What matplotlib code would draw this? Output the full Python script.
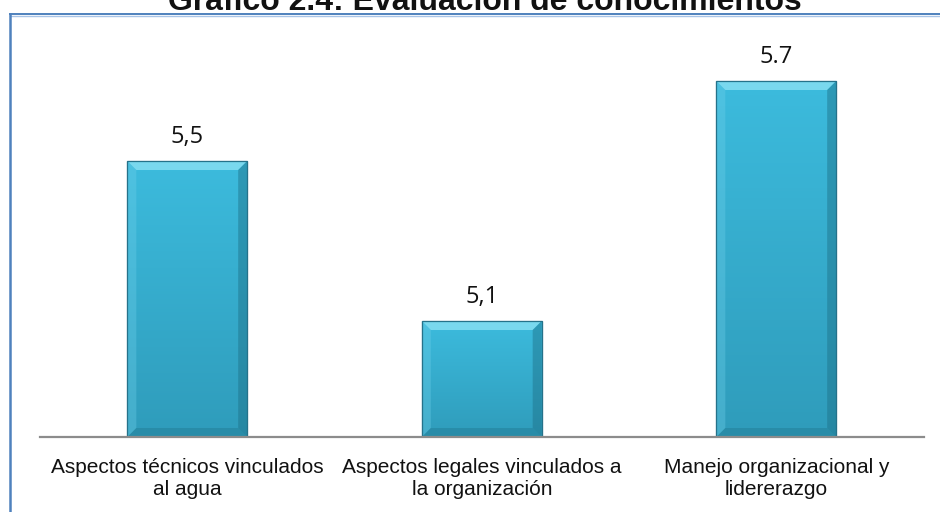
import numpy as np
import matplotlib
matplotlib.use("Agg")
import matplotlib.pyplot as plt
from matplotlib.patches import Polygon, Rectangle
from matplotlib.lines import Line2D
from matplotlib.colors import LinearSegmentedColormap

# Data
categories = ["Aspectos técnicos vinculados\nal agua",
              "Aspectos legales vinculados a\nla organización",
              "Manejo organizacional y\nlidererazgo"]
values = [5.5, 5.1, 5.7]
value_labels = ["5,5", "5,1", "5.7"]
title = "Gráfico 2.4: Evaluación de conocimientos"

fig = plt.figure(figsize=(9.4, 5.12), dpi=100)
W, H = 940, 512
ax = fig.add_axes([40 / W, 1 - 437 / H, (923.5 - 40) / W, (437 - 30) / H])

ymin, ymax = 4.81, 5.8275
ax.set_xlim(-0.5, 2.5)
ax.set_ylim(ymin, ymax)
for s in ["top", "right", "left"]:
    ax.spines[s].set_visible(False)
ax.spines["bottom"].set_color("#8c8c8c")
ax.spines["bottom"].set_linewidth(1.6)
ax.set_yticks([])
ax.set_xticks(range(len(categories)))
ax.set_xticklabels(categories, fontsize=15, family=["Liberation Sans", "DejaVu Sans"],
                   color="#111111", linespacing=1.2)
ax.tick_params(axis="x", length=0, pad=15)

bar_w = 0.407
x = np.arange(len(values))
bars = ax.bar(x, np.array(values) - ymin, bottom=ymin, width=bar_w,
              color="#3bb6d8", edgecolor="#2a7e94", linewidth=0.8, zorder=2)

grad = LinearSegmentedColormap.from_list("g", ["#2f9cbb", "#3cbbdd"])
to_px = ax.transData
to_data = ax.transData.inverted()
bev = 9  # bevel width in pixels
for b in bars:
    x0, y0 = b.get_x(), b.get_y()
    x1, y1 = x0 + b.get_width(), y0 + b.get_height()
    img = ax.imshow(np.linspace(1, 0, 100).reshape(-1, 1), cmap=grad,
                    extent=(x0, x1, y0, y1), aspect="auto", zorder=2.1)
    img.set_clip_path(b)
    (px0, py0), (px1, py1) = to_px.transform([(x0, y0), (x1, y1)])

    def poly(pts, color, alpha):
        d = to_data.transform(pts)
        ax.add_patch(Polygon(d, closed=True, facecolor=color, edgecolor="none",
                             alpha=alpha, zorder=2.2))

    # top, left, right, bottom bevel faces
    poly([(px0, py1), (px1, py1), (px1 - bev, py1 - bev), (px0 + bev, py1 - bev)], "#8fe3f5", 0.75)
    poly([(px0, py0), (px0, py1), (px0 + bev, py1 - bev), (px0 + bev, py0 + bev)], "#6fd0ea", 0.35)
    poly([(px1, py0), (px1, py1), (px1 - bev, py1 - bev), (px1 - bev, py0 + bev)], "#1d6f86", 0.45)
    poly([(px0, py0), (px1, py0), (px1 - bev, py0 + bev), (px0 + bev, py0 + bev)], "#1d6f86", 0.35)
    ax.add_patch(Rectangle((x0, y0), x1 - x0, y1 - y0, facecolor="none",
                           edgecolor="#25728a", linewidth=0.9, zorder=2.3))

for xi, v, lab in zip(x, values, value_labels):
    ax.annotate(lab, (xi, v), xytext=(0, 13), textcoords="offset points",
                ha="center", va="baseline", fontsize=17, color="#111111",
                family=["Open Sans", "DejaVu Sans"])

# chart frame lines
fig.add_artist(Line2D([10 / W, 1], [1 - 14 / H, 1 - 14 / H], color="#4f81bd", lw=1.4))
fig.add_artist(Line2D([10 / W, 1], [1 - 15.5 / H, 1 - 15.5 / H], color="#a9c4e6", lw=1.0))
fig.add_artist(Line2D([10 / W, 10 / W], [0, 1 - 14 / H], color="#4f81bd", lw=1.8))

fig.text(485 / W, 1 - 10 / H, title, ha="center", va="baseline", fontsize=23,
         fontweight="bold", family=["Liberation Sans", "DejaVu Sans"], color="#111111")

fig.savefig("out.png", dpi=100)
